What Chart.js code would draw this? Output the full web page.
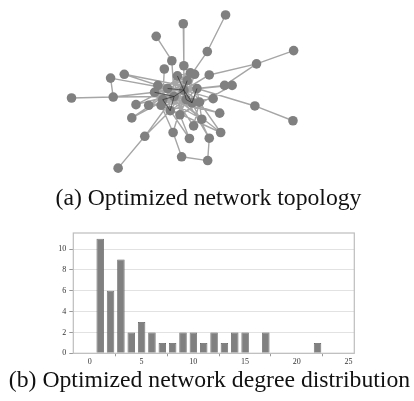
<!DOCTYPE html>
<html>
<head>
<meta charset="utf-8">
<script src="https://cdn.jsdelivr.net/npm/chart.js@4.4.1/dist/chart.umd.min.js"></script>
<style>
  html, body { margin: 0; padding: 0; background: #fff; }
  body { width: 414px; height: 401px; position: relative; overflow: hidden; }
  #netWrap { position: absolute; left: 0; top: 0; width: 414px; height: 185px; }
  #degWrap { position: absolute; left: 0; top: 225px; width: 414px; height: 144px; }
  .cap {
    position: absolute; left: 0; width: 414px; text-align: center;
    font-family: "Liberation Serif", "DejaVu Serif", serif;
    font-size: 23.7px; line-height: 23.7px; color: #111; white-space: nowrap;
  }
  #capA { top: 185.8px; left: 1.5px; }
  #capB { top: 367.8px; left: 2.5px; }
</style>
</head>
<body>
<div id="netWrap"><canvas id="net" width="414" height="185"></canvas></div>
<div class="cap" id="capA">(a) Optimized network topology</div>
<div id="degWrap"><canvas id="deg" width="414" height="144"></canvas></div>
<div class="cap" id="capB">(b) Optimized network degree distribution</div>

<script>
// ---- network layout (node coordinates in layout units) ----
const nodeX = [226, 182.7, 155, 207.3, 295.7, 257.7, 171, 183.3, 163.3, 108.3,
               122.3, 209.3, 194.3, 225, 232.7, 68.3, 111, 156.7, 213.3, 256,
               295, 134.3, 147.3, 220, 130, 201.7, 193.3, 172.3, 189, 209.3,
               221, 143.3, 181, 207.7, 116,
               153.3, 166.7, 176.7, 186.7, 196.7, 183.3, 173.3, 161.7, 160, 169.3,
               179.3, 185.7, 199.3, 191.7, 190];
const nodeY = [10.7, 20, 33.3, 49.3, 48.3, 62.3, 59, 64.3, 67.7, 77.3,
               73.3, 74, 73.3, 85, 85, 98.3, 97.3, 85, 99, 106.7,
               122.3, 105.3, 106, 114.3, 119.3, 120.7, 127.7, 134.7, 141, 140.7,
               134.7, 138.7, 160.3, 164.3, 172.3,
               92.3, 88.3, 75, 80, 88.3, 90, 96.7, 100, 106, 111.7,
               116, 100, 102.7, 103.3, 71.7];

// edges as [from, to] node indices
const edges = [
  [0,3],[3,38],[1,7],[7,40],[2,6],[6,41],[4,5],[5,11],[5,13],[8,42],
  [9,16],[9,36],[10,36],[10,39],[11,41],[11,40],[12,42],[12,46],[13,39],[14,40],
  [14,45],[15,16],[16,35],[16,41],[17,38],[17,48],[18,43],[18,40],[19,39],[19,20],
  [21,39],[21,36],[22,46],[22,49],[23,42],[23,35],[24,40],[24,38],[25,41],[25,39],
  [25,35],[26,36],[26,47],[27,43],[27,49],[28,42],[28,45],[29,46],[29,48],[29,33],
  [30,43],[30,47],[30,41],[31,34],[31,41],[31,44],[32,33],[32,27],
  [35,36],[35,40],[35,41],[35,42],[35,43],[35,46],[35,47],[35,49],
  [36,37],[36,38],[36,39],[36,40],[36,41],[36,44],[36,48],
  [37,38],[37,41],[37,46],[37,49],[37,45],
  [38,39],[38,40],[38,42],[38,47],[38,49],
  [39,40],[39,41],[39,46],[39,48],
  [40,41],[40,42],[40,44],[40,45],[40,47],[40,48],[40,49],
  [41,42],[41,43],[41,46],[41,48],
  [42,43],[42,44],[42,47],[43,44],[43,45],[44,45],[44,46],[44,48],
  [45,46],[45,47],[46,47],[46,48],[47,48],[48,49]
];

// short dense links in the core, drawn above the nodes
const coreLinks = [
  [40,41],[40,46],[41,42],[36,40],[38,40],[46,48],[41,44],[39,48],[37,40],[35,41],[42,44],[40,48]
];

// ---- degree distribution ----
const degrees = [1,2,3,4,5,6,7,8,9,10,11,12,13,14,15,16,17,18,19,20,21,22];
const counts  = [11,6,9,2,3,2,1,1,2,2,1,2,1,2,2,0,2,0,0,0,0,1];
const degreeTicks = [0,5,10,15,20,25];
const countTicks  = [0,2,4,6,8,10];

function segmentPoints(list) {
  const pts = [];
  list.forEach(([a, b]) => {
    pts.push({x: nodeX[a], y: nodeY[a]});
    pts.push({x: nodeX[b], y: nodeY[b]});
    pts.push({x: nodeX[b], y: null});
  });
  return pts;
}

new Chart(document.getElementById('net'), {
  type: 'scatter',
  data: {
    datasets: [
      {
        label: 'edges', order: 3, showLine: true, spanGaps: false,
        data: segmentPoints(edges),
        borderColor: '#a6a6a6', borderWidth: 1.4, pointRadius: 0, pointHoverRadius: 0
      },
      {
        label: 'nodes', order: 2,
        data: nodeX.map((x, i) => ({x, y: nodeY[i]})),
        backgroundColor: '#808080', borderWidth: 0, pointRadius: 4.8, pointHoverRadius: 4.8
      },
      {
        label: 'core', order: 1, showLine: true, spanGaps: false,
        data: segmentPoints(coreLinks),
        borderColor: 'rgba(30,30,30,0.75)', borderWidth: 0.8, pointRadius: 0, pointHoverRadius: 0
      }
    ]
  },
  options: {
    responsive: false, animation: false, clip: false,
    layout: { padding: 0 },
    plugins: { legend: { display: false }, tooltip: { enabled: false } },
    scales: {
      x: { type: 'linear', min: 0, max: 414, display: false },
      y: { type: 'linear', min: 0, max: 185, reverse: true, display: false }
    }
  }
});

// frame around the plot area of the histogram
const frame = {
  id: 'frame',
  afterDatasetsDraw(chart) {
    const a = chart.chartArea, c = chart.ctx;
    c.save();
    c.strokeStyle = '#bdbdbd'; c.lineWidth = 1.2;
    c.strokeRect(a.left, a.top, a.right - a.left, a.bottom - a.top);
    c.restore();
  }
};

const tickFont = { family: '"Liberation Serif", serif', size: 8 };

new Chart(document.getElementById('deg'), {
  type: 'bar',
  data: {
    datasets: [{
      data: degrees.map((d, i) => ({x: d, y: counts[i]})).filter(p => p.y > 0),
      backgroundColor: '#808080', borderColor: '#5e5e5e', borderWidth: 0.8,
      barPercentage: 0.72, categoryPercentage: 1
    }]
  },
  options: {
    responsive: false, animation: false,
    layout: { padding: { top: 8, right: 59.7, left: 0, bottom: 0 } },
    plugins: { legend: { display: false }, tooltip: { enabled: false } },
    scales: {
      x: {
        type: 'linear', min: -1.6, max: 25.55, offset: false,
        afterFit: s => { s.height = 15.7; },
        afterBuildTicks: s => { s.ticks = degreeTicks.map(v => ({value: v})); },
        ticks: { font: tickFont, color: '#333', padding: 1, autoSkip: false, maxRotation: 0 },
        grid: { drawOnChartArea: false, drawTicks: true, tickLength: 3, tickColor: '#999' },
        border: { display: false }
      },
      y: {
        min: 0, max: 11.55,
        afterFit: s => { s.width = 73.3; },
        afterBuildTicks: s => { s.ticks = countTicks.map(v => ({value: v})); },
        ticks: { font: tickFont, color: '#333', padding: 3 },
        grid: { color: '#e2e2e2', lineWidth: 1, tickLength: 4, tickColor: '#999' },
        border: { display: false }
      }
    }
  },
  plugins: [frame]
});
</script>
</body>
</html>
